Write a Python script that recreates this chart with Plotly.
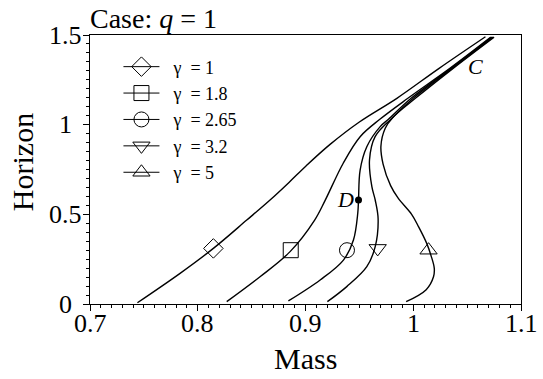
import plotly.graph_objects as go

# ---- data ----
g1_x = [0.744, 0.7836, 0.8145, 0.8455, 0.8671, 0.8847, 0.9005, 0.9228, 0.950, 0.9848, 1.024, 1.067]
g1_y = [0.007, 0.171, 0.31, 0.468, 0.58, 0.678, 0.77, 0.89, 1.015, 1.147, 1.314, 1.49]

g18_x = [0.8269, 0.8578, 0.8857, 0.9085, 0.918, 0.935, 0.9507, 0.969, 0.995, 1.034, 1.072]
g18_y = [0.013, 0.152, 0.292, 0.468, 0.575, 0.785, 0.933, 1.03, 1.147, 1.314, 1.488]

g265_x = [0.8841, 0.9136, 0.9352, 0.9445, 0.9485, 0.9492, 0.9507, 0.9569, 0.9693, 0.977, 0.998, 1.035, 1.073]
g265_y = [0.017, 0.134, 0.245, 0.357, 0.506, 0.58, 0.747, 0.877, 0.989, 1.03, 1.147, 1.314, 1.488]

g32_x = [0.9203, 0.9383, 0.9569, 0.9647, 0.9674, 0.9647, 0.9616, 0.9594, 0.9646, 0.980, 1.0, 1.036, 1.074]
g32_y = [0.013, 0.097, 0.208, 0.32, 0.475, 0.58, 0.654, 0.803, 0.933, 1.035, 1.147, 1.314, 1.488]

g5_x = [0.9934, 1.012, 1.0188, 1.0195, 1.0165, 1.0125, 1.005, 0.9985, 0.986, 0.979, 0.972, 0.970, 0.974, 0.981, 1.002, 1.037, 1.075]
g5_y = [0.013, 0.08, 0.152, 0.20, 0.27, 0.338, 0.43, 0.50, 0.59, 0.66, 0.78, 0.88, 0.98, 1.04, 1.147, 1.314, 1.488]

gamma_values = ["1", "1.8", "2.65", "3.2", "5"]
marker_x = [0.8145, 0.8863, 0.9385, 0.967, 1.0142]
marker_y = [0.31, 0.30, 0.30, 0.31, 0.30]
marker_symbols = ["diamond-open", "square-open", "circle-open", "triangle-down-open", "triangle-up-open"]

point_D = (0.9492, 0.58)
label_C = (1.058, 1.324)

x_ticks = [0.7, 0.8, 0.9, 1.0, 1.1]
x_ticktext = ["0.7", "0.8", "0.9", "1", "1.1"]
y_ticks = [0, 0.5, 1.0, 1.5]
y_ticktext = ["0", "0.5", "1", "1.5"]

FONT = "Liberation Serif, Times New Roman, serif"
NB = "\u00a0"
curves = [(g1_x, g1_y), (g18_x, g18_y), (g265_x, g265_y), (g32_x, g32_y), (g5_x, g5_y)]

fig = go.Figure()
for cx, cy in curves:
    fig.add_trace(go.Scatter(x=cx, y=cy, mode="lines", line=dict(color="black", width=1.4, shape="spline", smoothing=1.0),
                             showlegend=False, hoverinfo="skip"))

for i, gv in enumerate(gamma_values):
    fig.add_trace(go.Scatter(x=[marker_x[i]], y=[marker_y[i]], mode="lines+markers",
                             name=NB * 2 + "γ" + NB * 2 + "=" + NB + gv,
                             line=dict(color="black", width=1),
                             marker=dict(symbol=marker_symbols[i], size=15, color="black", line=dict(width=1, color="black"))))

fig.add_trace(go.Scatter(x=[point_D[0]], y=[point_D[1]], mode="markers", marker=dict(color="black", size=7),
                         showlegend=False))

fig.add_annotation(x=point_D[0], y=point_D[1], text="<i>D</i>", showarrow=False, xanchor="right", xshift=-3,
                   font=dict(family=FONT, size=22, color="black"))
fig.add_annotation(x=label_C[0], y=label_C[1], text="<i>C</i>", showarrow=False,
                   font=dict(family=FONT, size=22, color="black"))
fig.add_annotation(xref="paper", yref="paper", x=-0.005, y=1, yanchor="bottom", xanchor="left", yshift=-1,
                   text="Case: <i>q</i> = 1", showarrow=False, font=dict(family=FONT, size=28, color="black"))
fig.add_annotation(xref="paper", yref="paper", x=0.5, y=-0.203, xanchor="center", yanchor="middle",
                   text="Mass", showarrow=False, font=dict(family=FONT, size=30, color="black"))
fig.add_annotation(xref="paper", yref="paper", x=-0.158, y=0.527, xanchor="center", yanchor="middle", textangle=-90,
                   text="Horizon", showarrow=False, font=dict(family=FONT, size=30, color="black"))

# tick labels placed at the axis tick values (centred, as in the reference)
for v, t in zip(x_ticks, x_ticktext):
    fig.add_annotation(x=v, xref="x", y=-0.072, yref="paper", text=t, showarrow=False,
                       xanchor="center", yanchor="middle", font=dict(family=FONT, size=26, color="black"))
for v, t in zip(y_ticks, y_ticktext):
    fig.add_annotation(x=-0.056, xref="paper", y=v, yref="y", text=t, showarrow=False,
                       xanchor="center", yanchor="middle", font=dict(family=FONT, size=26, color="black"))

axis_common = dict(showgrid=False, zeroline=False, showline=True, mirror=True, linecolor="black", linewidth=1.2,
                   ticks="outside", ticklen=6, tickwidth=1, tickcolor="black", showticklabels=False)

fig.update_xaxes(range=[0.7, 1.1], tickvals=x_ticks,
                 minor=dict(dtick=0.01, ticks="outside", ticklen=3, tickcolor="black", showgrid=False),
                 **axis_common)
fig.update_yaxes(range=[0, 1.5], tickvals=y_ticks,
                 minor=dict(dtick=0.05, ticks="outside", ticklen=3, tickcolor="black", showgrid=False),
                 **axis_common)

fig.update_layout(width=543, height=379, margin=dict(l=90, r=22, t=35, b=75),
                  plot_bgcolor="white", paper_bgcolor="white",
                  legend=dict(x=0.066, y=0.95, xanchor="left", yanchor="top", bgcolor="rgba(0,0,0,0)",
                              font=dict(family=FONT, size=18, color="black"), tracegroupgap=0,
                              itemwidth=36),
                  font=dict(family=FONT, color="black"))

fig.write_html("out.html")
